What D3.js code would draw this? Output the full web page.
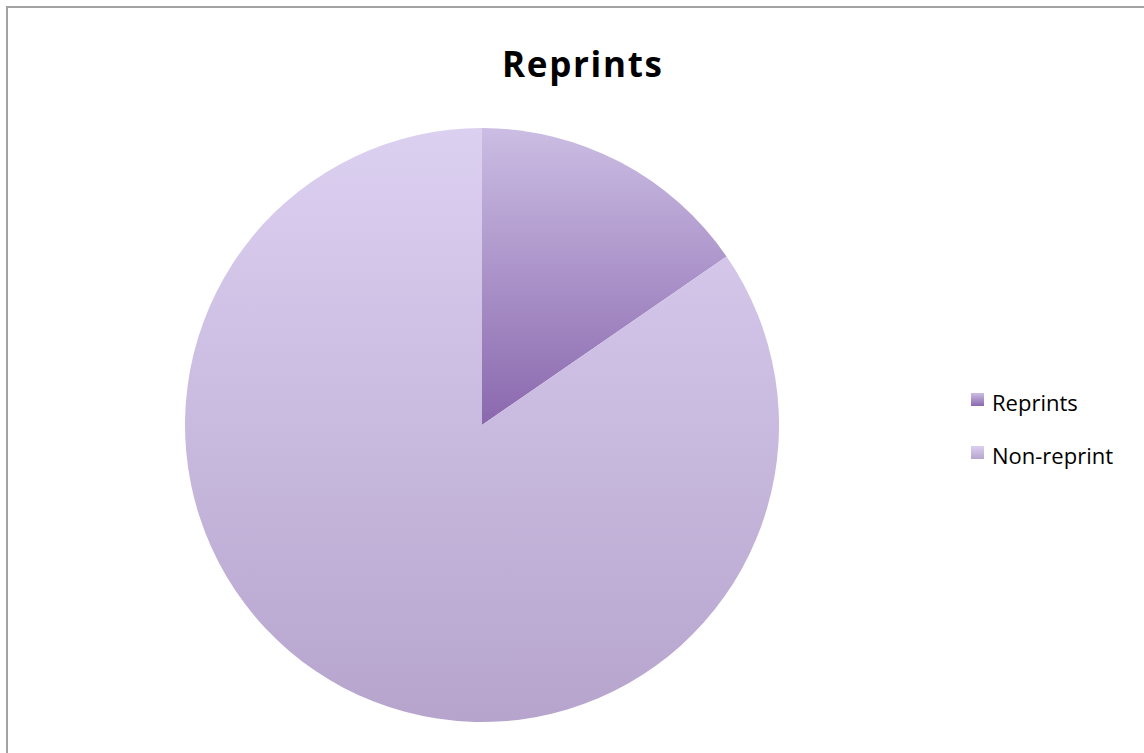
<!DOCTYPE html>
<html>
<head>
<meta charset="utf-8">
<script src="https://cdn.jsdelivr.net/npm/d3@7"></script>
<style>
    body { margin: 0; background: #fff; }
    svg { display: block; }
</style>
</head>
<body>
<div id="chart"></div>
<script>
// slice data
const categories = ["Reprints", "Non-reprint"];
const shares = [15.4, 84.6];
const chart_title = "Reprints";

// top / bottom colour of each slice's gradient
const slice_colors = {
    "Reprints" : ["#cbbde3", "#8a68ae"],
    "Non-reprint" : ["#dcd0f1", "#b6a4cd"]
};

const width = 1144, height = 753;
const cx = 482, cy = 425, radius = 297;

let svg = d3.select("#chart")
    .append("svg")
    .attr("width", width)
    .attr("height", height);

// outer frame
svg.append("rect")
    .attr("x", 7)
    .attr("y", 7)
    .attr("width", 1160)
    .attr("height", 780)
    .attr("fill", "#fff")
    .attr("stroke", "#a3a3a3")
    .attr("stroke-width", 2);

svg.append("text")
    .attr("x", 582)
    .attr("y", 77)
    .attr("text-anchor", "middle")
    .attr("font-family", "'Open Sans', 'Noto Sans', sans-serif")
    .attr("font-weight", "bold")
    .attr("font-size", 35)
    .attr("textLength", 160)
    .attr("lengthAdjust", "spacing")
    .attr("fill", "#000")
    .text(chart_title);

let defs = svg.append("defs");

let pie = d3.pie().sort(null).value(d => d.value);
let arcs = pie(categories.map((c, i) => ({name: c, value: shares[i]})));
let arc = d3.arc().innerRadius(0).outerRadius(radius);

// gradient runs over each slice's own bounding box
arcs.forEach((a, i) => {
    let grad = defs.append("linearGradient")
        .attr("id", "grad" + i)
        .attr("x1", 0).attr("y1", 0)
        .attr("x2", 0).attr("y2", 1);
    grad.append("stop").attr("offset", "0%").attr("stop-color", slice_colors[a.data.name][0]);
    grad.append("stop").attr("offset", "100%").attr("stop-color", slice_colors[a.data.name][1]);
});

let blur = defs.append("filter").attr("id", "soft");
blur.append("feGaussianBlur").attr("stdDeviation", 0.6);

let pie_group = svg.append("g")
    .attr("transform", `translate(${cx}, ${cy})`);

pie_group.selectAll("path")
    .data(arcs)
    .join("path")
    .attr("d", arc)
    .attr("fill", (d, i) => `url(#grad${i})`)
    .attr("filter", "url(#soft)");

// legend
let legend = svg.append("g")
    .attr("transform", "translate(971, 393)");

let items = legend.selectAll("g")
    .data(categories)
    .join("g")
    .attr("transform", (d, i) => `translate(0, ${i * 53})`);

items.append("rect")
    .attr("width", 13)
    .attr("height", 13)
    .attr("fill", (d, i) => `url(#grad${i})`);

items.append("text")
    .attr("x", 21)
    .attr("y", 18)
    .attr("font-family", "'Open Sans', 'Noto Sans', sans-serif")
    .attr("font-size", 22)
    .attr("fill", "#000")
    .text(d => d);
</script>
</body>
</html>
